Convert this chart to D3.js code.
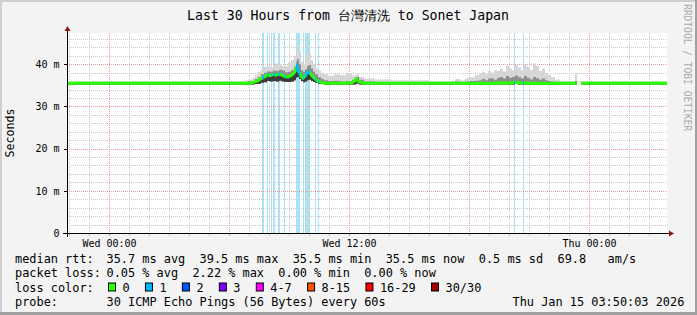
<!DOCTYPE html>
<html>
<head>
<meta charset="utf-8">
<script src="https://cdn.jsdelivr.net/npm/d3@7"></script>
<style>
html, body { margin: 0; padding: 0; background: #f3f3f3; }
svg { display: block; font-family: "DejaVu Sans Mono", monospace; }
</style>
</head>
<body>
<svg id="chart" width="697" height="315" xml:space="preserve"></svg>
<script>
// smokeping style latency graph - last 30 hours

var startTime = new Date(2026, 0, 13, 21, 54);
var endTime = new Date(2026, 0, 15, 3, 54);

// sample times, minutes after startTime
var sampleMinutes = [0, 69, 159, 249, 339, 429, 504, 534, 543, 555, 564, 573, 582, 591, 600, 609, 618, 627, 636, 645,
    654, 663, 672, 681, 687, 690, 696, 702, 708, 714, 720, 726, 732, 738, 744, 753, 762, 771, 783, 801,
    819, 837, 855, 867, 876, 891, 924, 969, 1029, 1089, 1149, 1164, 1179, 1194, 1209, 1224, 1236, 1245, 1254, 1263,
    1272, 1281, 1290, 1299, 1308, 1317, 1326, 1335, 1344, 1353, 1362, 1371, 1380, 1389, 1398, 1407, 1416, 1425, 1434, 1443,
    1452, 1464, 1479, 1509, 1524, 1530, 1533, 1542, 1599, 1659, 1734, 1800];

// median rtt in ms (null = no data)
var medianMs = [35.5, 35.5, 35.5, 35.5, 35.5, 35.5, 35.5, 35.5, 35.5, 35.6, 35.8, 36.1, 36.6, 36.9, 37.5, 37.3, 37.6, 37.4, 37.7, 37.4,
    37.1, 37.0, 37.3, 37.9, 38.9, 39.5, 38.3, 37.2, 36.7, 37.2, 38.0, 38.2, 37.6, 37.0, 36.6, 36.0, 35.7, 35.5, 35.5, 35.5,
    35.5, 35.5, 35.6, 36.5, 35.8, 35.5, 35.5, 35.5, 35.5, 35.5, 35.5, 35.5, 35.5, 35.5, 35.5, 35.4, 35.5, 35.5, 35.5, 35.4,
    35.5, 35.5, 35.5, 35.6, 35.5, 35.6, 35.5, 35.6, 35.7, 35.6, 35.5, 35.6, 35.5, 35.5, 35.5, 35.5, 35.4, 35.5, 35.5, 35.4,
    35.5, 35.5, 35.5, 35.5, 35.5, 35.5, null, 35.5, 35.5, 35.5, 35.5, 35.5];

// smoke: fastest ping, upper half of pings, slowest ping
var smokeLo = [35.2, 35.2, 35.2, 35.2, 35.2, 35.2, 35.2, 35.2, 35.2, 35.2, 35.3, 35.4, 35.6, 35.7, 36.0, 35.9, 36.0, 35.9, 36.1, 35.9,
    35.8, 35.8, 35.9, 36.2, 36.8, 37.0, 36.5, 36.0, 35.7, 35.9, 36.2, 36.3, 36.0, 35.8, 35.6, 35.4, 35.3, 35.2, 35.2, 35.2,
    35.2, 35.2, 35.2, 35.4, 35.2, 35.2, 35.2, 35.2, 35.2, 35.2, 35.2, 35.2, 35.2, 35.2, 35.2, 35.1, 35.2, 35.2, 35.2, 35.1,
    35.2, 35.2, 35.2, 35.2, 35.2, 35.2, 35.2, 35.2, 35.3, 35.2, 35.2, 35.2, 35.2, 35.2, 35.2, 35.2, 35.1, 35.2, 35.2, 35.1,
    35.2, 35.2, 35.2, 35.2, 35.2, 35.2, null, 35.2, 35.2, 35.2, 35.2, 35.2];
var smokeMid = [35.8, 35.8, 35.8, 35.8, 35.8, 35.8, 35.8, 35.8, 35.9, 36.0, 36.5, 37.0, 37.6, 38.0, 38.3, 38.2, 38.5, 38.4, 38.7, 38.5,
    38.1, 38.2, 38.6, 39.4, 40.6, 41.2, 40.0, 38.6, 38.2, 38.8, 39.6, 39.8, 39.0, 38.3, 37.6, 37.0, 36.5, 36.2, 36.0, 36.1,
    35.9, 36.0, 36.2, 37.0, 36.3, 35.9, 35.8, 35.8, 35.8, 35.8, 35.8, 35.9, 35.8, 35.9, 36.0, 36.1, 36.2, 36.5, 36.2, 36.6,
    36.7, 36.3, 36.8, 37.0, 36.6, 37.2, 36.8, 37.0, 37.3, 36.9, 36.6, 37.2, 36.8, 36.4, 37.0, 36.7, 36.3, 36.6, 36.2, 36.0,
    35.9, 35.8, 35.8, 35.8, 36.0, 35.8, null, 35.8, 35.8, 35.8, 35.8, 35.8];
var smokeHi = [35.9, 35.9, 35.9, 35.9, 35.9, 35.9, 36.0, 36.2, 36.4, 36.8, 37.5, 38.2, 38.8, 39.4, 39.6, 39.3, 39.8, 40.2, 40.0, 39.5,
    39.6, 40.4, 41.0, 42.0, 43.5, 44.6, 42.8, 40.5, 40.0, 41.4, 43.0, 42.5, 41.0, 40.0, 39.0, 38.6, 38.0, 37.6, 37.2, 37.6,
    37.4, 37.9, 37.3, 37.6, 37.0, 36.6, 36.4, 36.2, 36.2, 36.0, 36.1, 36.5, 36.2, 36.7, 36.9, 37.4, 37.8, 38.2, 37.6, 38.4,
    38.0, 38.6, 38.4, 39.0, 38.3, 39.6, 39.0, 38.6, 39.8, 39.2, 38.5, 40.0, 39.4, 38.6, 40.2, 39.6, 38.4, 39.0, 38.0, 37.5,
    37.0, 36.4, 36.1, 36.0, 37.9, 36.0, null, 35.9, 35.9, 35.9, 35.9, 35.9];

// 3 minute columns (minutes after startTime) with packet loss
var lossMinutes = [585, 588, 600, 612, 618, 621, 633, 636, 651, 687, 690, 693, 696, 708, 714, 717, 720, 723, 726,
    744, 753, 1341, 1368];

var yTicks = [0, 10, 20, 30, 40];
var yTickLabels = ['0', '10 m', '20 m', '30 m', '40 m'];
var xLabelTimes = [new Date(2026, 0, 14, 0, 0), new Date(2026, 0, 14, 12, 0), new Date(2026, 0, 15, 0, 0)];
var xLabels = ['Wed 00:00', 'Wed 12:00', 'Thu 00:00'];

var lossLabels = ['0', '1', '2', '3', '4-7', '8-15', '16-29', '30/30'];
var lossColors = ['#26ff00', '#00b8ff', '#0059ff', '#7e00ff', '#ff00ff', '#ff5500', '#ff0000', '#a10000'];

var svgWidth = 697, svgHeight = 315;
var plotLeft = 67, plotRight = 667, plotTop = 33, plotBottom = 233;
var cw = 7.15; // legend char width

var svg = d3.select('#chart');

var x = d3.scaleTime().domain([startTime, endTime]).range([plotLeft, plotRight]);
var y = d3.scaleLinear().domain([0, 47.4]).range([plotBottom, plotTop]);

function t(m) { return new Date(startTime.getTime() + m * 60000); }

var data = sampleMinutes.map(function(m, i) {
    return { time: t(m), med: medianMs[i], lo: smokeLo[i], mid: smokeMid[i], hi: smokeHi[i] };
});

// frame
svg.append('rect').attr('width', svgWidth).attr('height', svgHeight).attr('fill', '#f3f3f3');
svg.append('rect').attr('x', 0).attr('y', 0).attr('width', svgWidth).attr('height', 2).attr('fill', '#cfcfcf');
svg.append('rect').attr('x', 0).attr('y', 0).attr('width', 2).attr('height', svgHeight).attr('fill', '#cfcfcf');
svg.append('rect').attr('x', 0).attr('y', svgHeight - 3).attr('width', svgWidth).attr('height', 3).attr('fill', '#a0a0a0');
svg.append('rect').attr('x', svgWidth - 2).attr('y', 0).attr('width', 2).attr('height', svgHeight).attr('fill', '#a0a0a0');

// plot background
svg.append('rect').attr('x', plotLeft).attr('y', plotTop).attr('width', plotRight - plotLeft).attr('height', plotBottom - plotTop)
    .attr('fill', '#ffffff');

svg.append('clipPath').attr('id', 'plotclip').append('rect')
    .attr('x', plotLeft).attr('y', plotTop).attr('width', plotRight - plotLeft).attr('height', plotBottom - plotTop);

// loss bars
var lossClip = svg.append('clipPath').attr('id', 'lossclip');
lossClip.selectAll('rect').data(lossMinutes).enter().append('rect')
    .attr('x', function(d) { return x(t(d)); })
    .attr('y', plotTop)
    .attr('width', function(d) { return x(t(d + 3)) - x(t(d)); })
    .attr('height', plotBottom - plotTop);

svg.append('g').selectAll('rect').data(lossMinutes).enter().append('rect')
    .attr('x', function(d) { return x(t(d)); })
    .attr('y', plotTop)
    .attr('width', function(d) { return x(t(d + 3)) - x(t(d)); })
    .attr('height', plotBottom - plotTop)
    .attr('fill', '#a8e4f8');

// grid
var grid = svg.append('g').attr('stroke-width', 1).attr('stroke-dasharray', '1,1').attr('fill', 'none');
var hours = x.ticks(d3.timeHour.every(1));
grid.selectAll('.vminor').data(hours.filter(function(d) { return d.getHours() % 6 != 0; })).enter().append('line')
    .attr('x1', function(d) { return Math.round(x(d)) + 0.5; })
    .attr('x2', function(d) { return Math.round(x(d)) + 0.5; })
    .attr('y1', plotTop).attr('y2', plotBottom)
    .attr('stroke', '#c8c8c8');
var hmin = d3.range(2, 48, 2).filter(function(v) { return v % 10 != 0; });
grid.selectAll('.hminor').data(hmin).enter().append('line')
    .attr('x1', plotLeft).attr('x2', plotRight)
    .attr('y1', function(d) { return Math.round(y(d)) + 0.5; })
    .attr('y2', function(d) { return Math.round(y(d)) + 0.5; })
    .attr('stroke', '#c8c8c8');
grid.selectAll('.vmajor').data(hours.filter(function(d) { return d.getHours() % 6 == 0; })).enter().append('line')
    .attr('x1', function(d) { return Math.round(x(d)) + 0.5; })
    .attr('x2', function(d) { return Math.round(x(d)) + 0.5; })
    .attr('y1', plotTop).attr('y2', plotBottom)
    .attr('stroke', '#e29a9a');
grid.selectAll('.hmajor').data(yTicks.slice(1)).enter().append('line')
    .attr('x1', plotLeft).attr('x2', plotRight)
    .attr('y1', function(d) { return Math.round(y(d)) + 0.5; })
    .attr('y2', function(d) { return Math.round(y(d)) + 0.5; })
    .attr('stroke', '#e29a9a');

// smoke
var plot = svg.append('g').attr('clip-path', 'url(#plotclip)');
var ok = function(d) { return d.med != null; };

plot.append('path').datum(data)
    .attr('d', d3.area().defined(ok).curve(d3.curveStepAfter)
        .x(function(d) { return x(d.time); })
        .y0(function(d) { return y(d.lo); })
        .y1(function(d) { return y(d.hi); }))
    .attr('fill', '#d6d6d6');
plot.append('path').datum(data)
    .attr('d', d3.area().defined(ok).curve(d3.curveStepAfter)
        .x(function(d) { return x(d.time); })
        .y0(function(d) { return y(d.lo); })
        .y1(function(d) { return y(d.mid); }))
    .attr('fill', '#8e8e8e');
plot.append('path').datum(data)
    .attr('d', d3.area().defined(ok).curve(d3.curveStepAfter)
        .x(function(d) { return x(d.time); })
        .y0(function(d) { return y(d.lo); })
        .y1(function(d) { return y(d.med); }))
    .attr('fill', '#3c3c3c');

// median line, coloured by loss
var medLine = d3.line().defined(ok)
    .x(function(d) { return x(d.time); })
    .y(function(d) { return y(d.med); });

plot.append('path').datum(data).attr('d', medLine)
    .attr('fill', 'none').attr('stroke', '#26ff00').attr('stroke-width', 3);
plot.append('path').datum(data).attr('d', medLine)
    .attr('clip-path', 'url(#lossclip)')
    .attr('fill', 'none').attr('stroke', '#00b8ff').attr('stroke-width', 3);

// axes
var axes = svg.append('g');
axes.append('line').attr('x1', plotLeft + 0.5).attr('x2', plotLeft + 0.5).attr('y1', plotBottom + 4).attr('y2', plotTop - 3)
    .attr('stroke', '#000');
axes.append('line').attr('x1', plotLeft - 4).attr('x2', plotRight + 4).attr('y1', plotBottom + 0.5).attr('y2', plotBottom + 0.5)
    .attr('stroke', '#000');
axes.append('path').attr('d', 'M' + (plotLeft - 2.5) + ',' + (plotTop - 2) + 'L' + (plotLeft + 0.5) + ',' + (plotTop - 7) + 'L' + (plotLeft + 3.5) + ',' + (plotTop - 2) + 'Z')
    .attr('fill', '#8b1a1a');
axes.append('path').attr('d', 'M' + (plotRight + 2) + ',' + (plotBottom - 2.5) + 'L' + (plotRight + 7) + ',' + (plotBottom + 0.5) + 'L' + (plotRight + 2) + ',' + (plotBottom + 3.5) + 'Z')
    .attr('fill', '#8b1a1a');

// tick marks
axes.selectAll('.xt').data(hours).enter().append('line')
    .attr('x1', function(d) { return Math.round(x(d)) + 0.5; })
    .attr('x2', function(d) { return Math.round(x(d)) + 0.5; })
    .attr('y1', plotBottom + 1).attr('y2', plotBottom + 3)
    .attr('stroke', function(d) { return d.getHours() % 6 == 0 ? '#e29a9a' : '#c8c8c8'; });
axes.selectAll('.yt').data(yTicks).enter().append('line')
    .attr('x1', plotLeft - 3).attr('x2', plotLeft)
    .attr('y1', function(d) { return Math.round(y(d)) + 0.5; })
    .attr('y2', function(d) { return Math.round(y(d)) + 0.5; })
    .attr('stroke', '#000');

var yAxis = svg.append('g').attr('transform', 'translate(' + plotLeft + ',0)')
    .call(d3.axisLeft(y).tickValues(yTicks).tickSize(0).tickPadding(7.5)
        .tickFormat(function(d, i) { return yTickLabels[i]; }));
yAxis.select('.domain').remove();
yAxis.selectAll('text').attr('font-family', '"DejaVu Sans Mono", monospace').attr('font-size', 10).attr('fill', '#000');

var xAxis = svg.append('g').attr('transform', 'translate(0,' + plotBottom + ')')
    .call(d3.axisBottom(x).tickValues(xLabelTimes).tickSize(0).tickPadding(6.4)
        .tickFormat(function(d, i) { return xLabels[i]; }));
xAxis.select('.domain').remove();
xAxis.selectAll('text').attr('font-family', '"DejaVu Sans Mono", monospace').attr('font-size', 10).attr('fill', '#000');

// titles
svg.append('text').attr('x', 348).attr('y', 19.5).attr('text-anchor', 'middle')
    .attr('font-size', 13.2).text('Last 30 Hours from 台灣清洗 to Sonet Japan');
svg.append('text').attr('transform', 'translate(14,133) rotate(-90)').attr('text-anchor', 'middle')
    .attr('font-size', 11.6).text('Seconds');
svg.append('text').attr('transform', 'translate(684,4) rotate(90)')
    .attr('font-size', 9.6).attr('fill', '#aaaaaa').text('RRDTOOL / TOBI OETIKER');

// legend
var legend = svg.append('g').attr('font-size', 11.9).attr('fill', '#000');
var rows = [263, 277.3, 291.5, 305.5];
function ltext(xp, yp, s) {
    return legend.append('text').attr('x', xp).attr('y', yp).attr('xml:space', 'preserve').text(s);
}
ltext(15, rows[0], 'median rtt:');
ltext(106.5, rows[0], '35.7 ms avg  39.5 ms max  35.5 ms min  35.5 ms now  0.5 ms sd  69.8   am/s');
ltext(15, rows[1], 'packet loss:');
ltext(106.5, rows[1], '0.05 % avg  2.22 % max  0.00 % min  0.00 % now');
ltext(15, rows[2], 'loss color:');

var pos = 108;
lossLabels.forEach(function(lbl, i) {
    legend.append('rect').attr('x', pos + 0.5).attr('y', rows[2] - 8.5).attr('width', 7).attr('height', 8)
        .attr('fill', lossColors[i]).attr('stroke', '#000').attr('stroke-width', 1);
    ltext(pos + 14.5, rows[2], lbl);
    pos += (lbl.length + 4) * cw + 1.2;
});

ltext(15, rows[3], 'probe:');
ltext(106.5, rows[3], '30 ICMP Echo Pings (56 Bytes) every 60s');
ltext(512.5, rows[3], 'Thu Jan 15 03:50:03 2026');
</script>
</body>
</html>
